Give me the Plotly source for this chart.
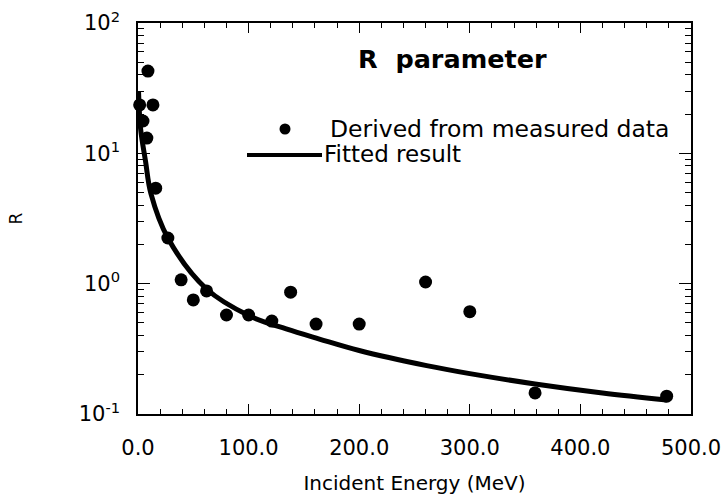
import plotly.graph_objects as go

# Measured points (Incident energy in MeV, R)
energy = [1.5, 4.5, 8, 9, 13.5, 16, 27, 39, 50, 62, 80, 100, 121, 138, 161, 200, 260, 300, 359, 478]
r_meas = [23.5, 17.7, 13.1, 42.8, 23.5, 5.4, 2.24, 1.07, 0.75, 0.88, 0.575, 0.575, 0.516, 0.86, 0.49, 0.49, 1.03, 0.61, 0.145, 0.137]

# Fitted curve
fit_energy = [0.5, 2.3, 6.8, 11.7, 27, 62, 101, 134, 164, 200, 261, 300, 359, 420, 478]
fit_r = [29.6, 15.6, 8.7, 4.9, 2.24, 0.91, 0.565, 0.449, 0.376, 0.307, 0.235, 0.204, 0.170, 0.145, 0.128]

x_ticks = [0, 100, 200, 300, 400, 500]
x_labels = ["0.0", "100.0", "200.0", "300.0", "400.0", "500.0"]
y_ticks = [0.1, 1, 10, 100]
y_labels = ["10<sup>-1</sup>", "10<sup>0</sup>", "10<sup>1</sup>", "10<sup>2</sup>"]
y_minor = [m * 10.0 ** e for e in (-1, 0, 1) for m in range(2, 10)]

FONT = "DejaVu Sans, Liberation Sans, Arial, sans-serif"

fig = go.Figure()
fig.add_trace(go.Scatter(
    x=fit_energy, y=fit_r, mode="lines",
    line=dict(color="black", width=5, shape="spline", smoothing=1.0),
    name="Fitted result", showlegend=False, cliponaxis=True,
))
fig.add_trace(go.Scatter(
    x=energy, y=r_meas, mode="markers",
    marker=dict(color="black", size=13),
    name="Derived from measured data", showlegend=False, cliponaxis=False,
))

# Hand-drawn style legend inside the plot
fig.add_shape(type="circle", xref="paper", yref="paper",
              x0=(285 - 5.5 - 138) / 553, x1=(285 + 5.5 - 138) / 553,
              y0=(414 - 129 - 5.5) / 391, y1=(414 - 129 + 5.5) / 391,
              fillcolor="black", line=dict(color="black", width=0))
fig.add_shape(type="line", xref="paper", yref="paper",
              x0=(247 - 138) / 553, x1=(322 - 138) / 553,
              y0=(414 - 155) / 391, y1=(414 - 155) / 391,
              line=dict(color="black", width=4))
fig.add_annotation(text="Derived from measured data", xref="paper", yref="paper",
                   x=(328 - 138) / 553, y=(414 - 129) / 391, xanchor="left", yanchor="middle",
                   showarrow=False, font=dict(family=FONT, size=23.5, color="black"))
fig.add_annotation(text="Fitted result", xref="paper", yref="paper",
                   x=(322 - 138) / 553, y=(414 - 154) / 391, xanchor="left", yanchor="middle",
                   showarrow=False, font=dict(family=FONT, size=23, color="black"))
fig.add_annotation(text="<b>R\u00a0\u00a0parameter</b>", xref="paper", yref="paper",
                   x=(356 - 138) / 553, y=(414 - 59) / 391, xanchor="left", yanchor="middle",
                   showarrow=False, font=dict(family=FONT, size=25.5, color="black"))

fig.update_layout(
    width=728, height=497,
    margin=dict(l=138, r=37, t=23, b=83),
    paper_bgcolor="white", plot_bgcolor="white",
    font=dict(family=FONT, color="black"),
    showlegend=False,
)
fig.update_xaxes(
    range=[0, 500], tickvals=x_ticks, ticktext=x_labels,
    showgrid=False, zeroline=False,
    showline=True, linecolor="black", linewidth=1.5, mirror="ticks",
    ticks="inside", ticklen=10, tickwidth=1.2, tickcolor="black",
    minor=dict(dtick=20, ticks="inside", ticklen=5, tickwidth=1.2, tickcolor="black", showgrid=False),
    tickfont=dict(family=FONT, size=21, color="black"),
    ticklabelstandoff=14,
    title=dict(text="Incident Energy (MeV)", font=dict(family=FONT, size=20, color="black"), standoff=17),
    automargin=False,
)
fig.update_yaxes(
    type="log", range=[-1, 2], tickvals=y_ticks, ticktext=y_labels,
    showgrid=False, zeroline=False,
    showline=True, linecolor="black", linewidth=1.5, mirror="ticks",
    ticks="inside", ticklen=12, tickwidth=1.2, tickcolor="black",
    minor=dict(tickmode="array", tickvals=y_minor, ticks="inside", ticklen=6,
               tickwidth=1.2, tickcolor="black", showgrid=False),
    tickfont=dict(family=FONT, size=21, color="black"),
    ticklabelstandoff=12,
    title=dict(text="R", font=dict(family=FONT, size=17, color="black"), standoff=52),
    automargin=False,
)

fig.write_html("out.html")
